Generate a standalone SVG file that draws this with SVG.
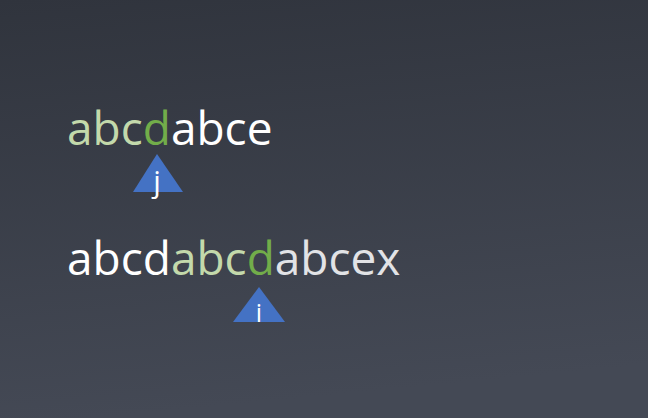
<svg xmlns="http://www.w3.org/2000/svg" width="648" height="418" viewBox="0 0 648 418">
<defs>
<linearGradient id="bg" x1="0" y1="0" x2="0.15" y2="1">
<stop offset="0" stop-color="#30343d"/>
<stop offset="1" stop-color="#444955"/>
</linearGradient>
</defs>
<style>
.s{font-family:"Open Sans","Noto Sans",sans-serif;font-size:46px;}
.lg{fill:#c3d9ab}.g{fill:#72ad4a}.w{fill:#ffffff}.gr{fill:#e2e3e6}
.tri{fill:#4472c4}
.lbl{font-family:"Open Sans","Noto Sans",sans-serif;fill:#ffffff;text-anchor:middle}
</style>
<rect width="648" height="418" fill="url(#bg)"/>
<g id="pattern">
<text class="s" x="67" y="145"><tspan class="lg">abc</tspan><tspan class="g">d</tspan><tspan class="w">abce</tspan></text>
</g>
<g id="text">
<text class="s" x="67" y="275"><tspan class="w">abcd</tspan><tspan class="lg">abc</tspan><tspan class="g">d</tspan><tspan class="gr">abcex</tspan></text>
</g>
<g id="pointer-j">
<polygon class="tri" points="157,154 183,192 133,192"/>
<text class="lbl" x="157" y="192" font-size="30">j</text>
</g>
<g id="pointer-i">
<polygon class="tri" points="259,287 285,322 233,322"/>
<text class="lbl" x="259" y="322" font-size="25">i</text>
</g>
<g id="connectors"/>
</svg>
